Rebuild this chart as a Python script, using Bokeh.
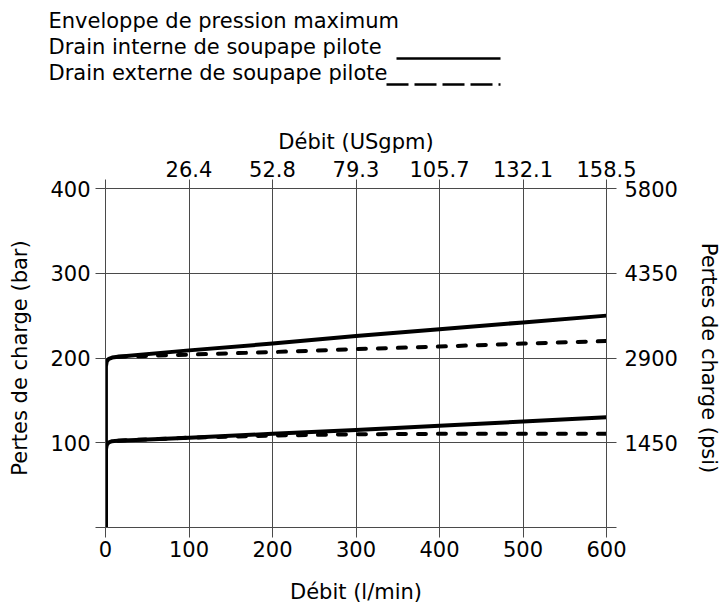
from bokeh.plotting import figure
from bokeh.models import Range1d, LinearAxis, FixedTicker, Title
from bokeh.embed import file_html
from bokeh.resources import INLINE

# ---- data ----
legend_labels = ["Enveloppe de pression maximum",
                 "Drain interne de soupape pilote",
                 "Drain externe de soupape pilote"]

int_hi_x = [0.5, 0.5, 1.5, 4, 8, 15, 100, 200, 300, 400, 500, 600]
int_hi_y = [0, 190, 196, 199, 200.5, 201.5, 209, 217, 226, 234, 242, 250]
int_lo_x = [0.5, 0.5, 1.5, 4, 8, 15, 100, 200, 300, 400, 500, 600]
int_lo_y = [0, 92, 97.5, 100.5, 101.8, 102.5, 106, 110.5, 115, 120, 125, 130]
ext_hi_x = [15, 100, 200, 300, 400, 500, 600]
ext_hi_y = [201.5, 204, 207, 210.5, 213.5, 217, 220]
ext_lo_x = [15, 100, 200, 300, 400, 500, 600]
ext_lo_y = [102.5, 106, 108.5, 110, 110.5, 110.5, 110.5]

x_ticks = [0, 100, 200, 300, 400, 500, 600]
x_tick_labels = ["0", "100", "200", "300", "400", "500", "600"]
usgpm_labels = ["", "26.4", "52.8", "79.3", "105.7", "132.1", "158.5"]
y_ticks = [0, 100, 200, 300, 400]
bar_labels = ["", "100", "200", "300", "400"]
psi_labels = ["", "1450", "2900", "4350", "5800"]

FONT = "DejaVu Sans"
FS = "21px"
GRID = "#4a4a4a"

W, H = 723, 612
BL, BR, BT, BB = 105, 113, 188, 85
X0, X1 = 0, 600

p = figure(width=W, height=H, x_range=Range1d(X0, X1), y_range=Range1d(0, 400),
           output_backend="svg", toolbar_location=None,
           min_border_left=BL, min_border_right=BR, min_border_top=BT, min_border_bottom=BB,
           x_axis_location=None, y_axis_location=None)
p.outline_line_color = None

def px_to_x(px):
    # canvas pixel column -> data x (legend key placement only)
    return X0 + (px - BL) * (X1 - X0) / (W - BL - BR)

def style(ax, ticks, labels, title):
    ax.ticker = FixedTicker(ticks=ticks)
    ax.major_label_overrides = {t: l for t, l in zip(ticks, labels)}
    ax.minor_tick_line_color = None
    ax.major_tick_in = 0
    ax.major_tick_out = 10
    ax.major_tick_line_color = GRID
    ax.axis_line_color = GRID
    ax.major_label_text_font = FONT
    ax.major_label_text_font_size = FS
    ax.major_label_text_color = "black"
    ax.axis_label = title
    ax.axis_label_text_font = FONT
    ax.axis_label_text_font_size = FS
    ax.axis_label_text_font_style = "normal"
    ax.axis_label_text_color = "black"

bottom = LinearAxis()
style(bottom, x_ticks, x_tick_labels, "Débit (l/min)")
bottom.major_label_standoff = 3
bottom.axis_label_standoff = 20
p.add_layout(bottom, "below")

top = LinearAxis()
style(top, x_ticks, usgpm_labels, "Débit (USgpm)")
top.major_tick_out = 9
top.major_label_standoff = 3
top.axis_label_standoff = 4
p.add_layout(top, "above")

left = LinearAxis()
style(left, y_ticks, bar_labels, "Pertes de charge (bar)")
left.major_label_standoff = 5
left.axis_label_standoff = 15
p.add_layout(left, "left")

right = LinearAxis()
style(right, y_ticks, psi_labels, "Pertes de charge (psi)")
right.major_label_standoff = 8
right.axis_label_standoff = 16
p.add_layout(right, "right")

p.xgrid.ticker = FixedTicker(ticks=x_ticks)
p.ygrid.ticker = FixedTicker(ticks=y_ticks)
p.xgrid.grid_line_color = GRID
p.ygrid.grid_line_color = GRID

for xs, ys, dash in [(int_hi_x, int_hi_y, "solid"), (int_lo_x, int_lo_y, "solid"),
                     (ext_hi_x, ext_hi_y, "8 12"), (ext_lo_x, ext_lo_y, "8 12")]:
    p.line(xs, ys, line_color="black", line_width=4, line_dash=dash,
           line_join="round", line_cap="round" if dash != "solid" else "butt")

# ---- legend block above the chart (stacked outward from the top axis) ----
def blank_axis(tick, tick_out, **line):
    ax = LinearAxis(ticker=FixedTicker(ticks=[tick]))
    ax.major_label_overrides = {tick: ""}
    ax.major_label_text_font_size = "1px"
    ax.major_label_standoff = 0
    ax.minor_tick_line_color = None
    ax.major_tick_in = 0
    ax.major_tick_out = tick_out
    ax.major_tick_line_color = "white"
    if line:
        for k, v in line.items():
            setattr(ax, k, v)
    else:
        ax.axis_line_color = None
    return ax

# invisible spacer between the top axis and the legend rows
p.add_layout(blank_axis(0, 42), "above")
# dashed key (external drain)
p.add_layout(blank_axis(400, 0, bounds=(px_to_x(388), px_to_x(503)), axis_line_color="black",
                        axis_line_width=2.5, axis_line_dash="22 6"), "above")
p.add_layout(Title(text=legend_labels[2], align="left", offset=49 - BL - 1, standoff=0,
                   text_font=FONT, text_font_size=FS, text_font_style="normal",
                   text_color="black"), "above")
# solid key (internal drain)
p.add_layout(blank_axis(400, 0, bounds=(px_to_x(398), px_to_x(503)), axis_line_color="black",
                        axis_line_width=2.5), "above")
p.add_layout(Title(text=legend_labels[1], align="left", offset=49 - BL - 1, standoff=0,
                   text_font=FONT, text_font_size=FS, text_font_style="normal",
                   text_color="black"), "above")
p.add_layout(Title(text=legend_labels[0], align="left", offset=49 - BL - 1, standoff=0,
                   text_font=FONT, text_font_size=FS, text_font_style="normal",
                   text_color="black"), "above")

open("out.html", "w").write(file_html(p, INLINE))
